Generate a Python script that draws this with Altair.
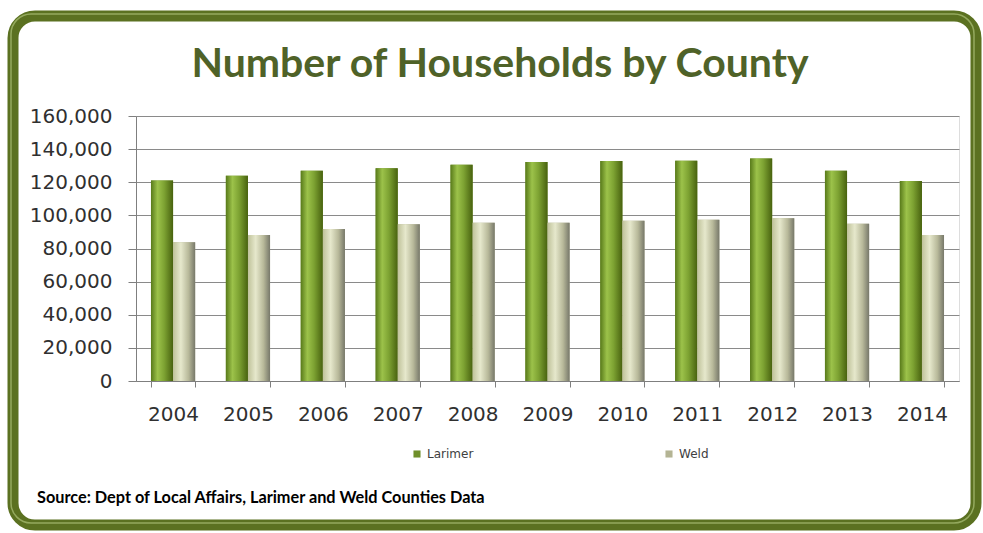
import altair as alt
import pandas as pd

years = ["2004", "2005", "2006", "2007", "2008", "2009", "2010", "2011", "2012", "2013", "2014"]
larimer = [121000, 124000, 127000, 128500, 130500, 132300, 132900, 133000, 134300, 126900, 120800]
weld = [83800, 88200, 91700, 94700, 95600, 95600, 96700, 97300, 98300, 94900, 88200]
counties = ["Larimer", "Weld"]
y_ticks = [0, 20000, 40000, 60000, 80000, 100000, 120000, 140000, 160000]

rows = []
for i, yr in enumerate(years):
    rows.append({"year": yr, "county": "Larimer", "households": larimer[i]})
    rows.append({"year": yr, "county": "Weld", "households": weld[i]})
df = pd.DataFrame(rows)

W, H = 823, 265
PAD_L, PAD_T = 136, 116

x_enc = alt.X("year:N", sort=years, title=None,
              scale=alt.Scale(paddingInner=0.41, paddingOuter=0.2),
              axis=alt.Axis(labelAngle=0, labelFont="DejaVu Sans", labelFontSize=20,
                            labelColor="#303030", tickSize=6, tickBand="extent",
                            labelPadding=17, domainColor="#7f7f7f", tickColor="#7f7f7f",
                            grid=False))
xo_enc = alt.XOffset("county:N", scale=alt.Scale(domain=counties, paddingInner=0.0))
y_enc = alt.Y("households:Q", title=None,
              scale=alt.Scale(domain=[0, 160000], nice=False),
              axis=alt.Axis(values=y_ticks, format=",.0f", labelFont="DejaVu Sans",
                            labelFontSize=20, labelColor="#303030", tickSize=8,
                            labelPadding=16, domainColor="#7f7f7f", tickColor="#7f7f7f",
                            gridColor="#8a8a8a", gridWidth=1))

base = alt.Chart(df).mark_bar().encode(
    x=x_enc, xOffset=xo_enc, y=y_enc,
    color=alt.Color("county:N", scale=alt.Scale(domain=counties, range=["#6f8f2a", "#b4b494"]),
                    legend=alt.Legend(title=None, orient="none", legendX=275, legendY=332,
                                      direction="horizontal", symbolType="square", symbolSize=50,
                                      labelFont="DejaVu Sans", labelFontSize=12,
                                      labelColor="#404040", columnPadding=189,
                                      symbolStrokeWidth=0))
)

grad_l = alt.Gradient(gradient="linear", x1=0, x2=1, y1=0, y2=0, stops=[
    alt.GradientStop(offset=0, color="#587a1a"),
    alt.GradientStop(offset=0.3, color="#9cc24a"),
    alt.GradientStop(offset=0.6, color="#7da232"),
    alt.GradientStop(offset=1, color="#48620f")])
grad_w = alt.Gradient(gradient="linear", x1=0, x2=1, y1=0, y2=0, stops=[
    alt.GradientStop(offset=0, color="#bfc29a"),
    alt.GradientStop(offset=0.35, color="#e6e8cc"),
    alt.GradientStop(offset=0.7, color="#b8b99a"),
    alt.GradientStop(offset=1, color="#77786a")])

lar = alt.Chart(df).transform_filter(alt.datum.county == "Larimer").mark_bar(fill=grad_l).encode(
    x=x_enc, xOffset=xo_enc, y=y_enc)
wel = alt.Chart(df).transform_filter(alt.datum.county == "Weld").mark_bar(fill=grad_w).encode(
    x=x_enc, xOffset=xo_enc, y=y_enc)

one = pd.DataFrame({"k": [0]})
frame = alt.Chart(one).mark_rect(fill="white", fillOpacity=0, stroke="#5b7121", strokeWidth=11,
                                 cornerRadius=22).encode(
    x=alt.value(13 - PAD_L), x2=alt.value(976 - PAD_L),
    y=alt.value(16 - PAD_T), y2=alt.value(525 - PAD_T))
frame_hi = alt.Chart(one).mark_rect(fill="white", fillOpacity=0, stroke="#a3b86e", strokeWidth=1.5,
                                    strokeOpacity=0.8, cornerRadius=20).encode(
    x=alt.value(11 - PAD_L), x2=alt.value(974 - PAD_L),
    y=alt.value(14 - PAD_T), y2=alt.value(523 - PAD_T))

title = alt.Chart(one).mark_text(text="Number of Households by County", align="center",
                                 baseline="alphabetic", font="Lato", fontSize=41,
                                 fontWeight="bold", color="#4f6228").encode(
    x=alt.value(500 - PAD_L), y=alt.value(77 - PAD_T))

source = alt.Chart(one).mark_text(text="Source: Dept of Local Affairs, Larimer and Weld Counties Data",
                                  align="left", baseline="alphabetic", font="Lato",
                                  fontSize=16.3, fontWeight="bold", color="#000000").encode(
    x=alt.value(37 - PAD_L), y=alt.value(503 - PAD_T))

chart = alt.layer(frame, frame_hi, title, base, lar, wel, source).properties(
    width=W, height=H,
    autosize=alt.AutoSizeParams(type="none"),
    padding={"left": PAD_L, "top": PAD_T, "right": 983 - PAD_L - W, "bottom": 533 - PAD_T - H},
).configure_view(stroke=None).configure(background="white")

chart.save("out.html", embed_options={"renderer": "svg", "actions": False})
